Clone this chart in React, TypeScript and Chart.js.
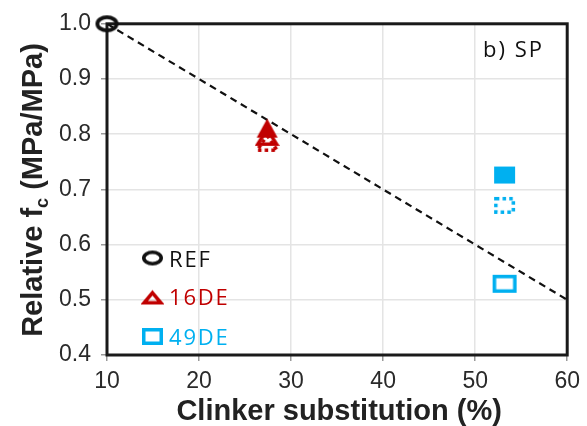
import React, { useEffect, useRef } from "react";
import { Chart, registerables } from "chart.js";

Chart.register(...registerables);

// ---- data ----
const xTickValues = [10, 20, 30, 40, 50, 60];
const yTickValues = [0.4, 0.5, 0.6, 0.7, 0.8, 0.9, 1.0];

const refX = [10];
const refY = [1.0];

const de16X = [27.4];
const de16Filled = [0.811];
const de16Open = [0.797];
const de16Dotted = [0.786];

const de49X = [53.2];
const de49Filled = [0.726];
const de49Dotted = [0.671];
const de49Open = [0.529];

const trendX = [10, 60];
const trendY = [1.0, 0.5];

const legendLabels = ["REF", "16DE", "49DE"];
const panelLabel = "b) SP";
const xTitle = "Clinker substitution (%)";
const yTitleMain = "Relative f";
const yTitleSub = "c";
const yTitleTail = " (MPa/MPa)";

const BLACK = "#111111";
const RED = "#C00000";
const CYAN = "#00B0F0";

type Shape = "ellipse" | "triangle" | "rect";
type Mode = "filled" | "open" | "dotted";

function markerCanvas(shape: Shape, mode: Mode, color: string, w: number, h: number, lw: number) {
  const c = document.createElement("canvas");
  c.width = w + 2;
  c.height = h + 2;
  const ctx = c.getContext("2d")!;
  const i = mode === "filled" ? 0 : lw / 2;
  ctx.beginPath();
  if (shape === "ellipse") {
    ctx.ellipse(1 + w / 2, 1 + h / 2, w / 2 - i, h / 2 - i, 0, 0, Math.PI * 2);
  } else if (shape === "triangle") {
    ctx.moveTo(1 + w / 2, 1 + i * 1.9);
    ctx.lineTo(1 + w - i * 1.2, 1 + h - i);
    ctx.lineTo(1 + i * 1.2, 1 + h - i);
    ctx.closePath();
  } else {
    ctx.rect(1 + i, 1 + i, w - 2 * i, h - 2 * i);
  }
  if (mode === "filled") {
    ctx.fillStyle = color;
    ctx.fill();
  } else {
    ctx.strokeStyle = color;
    ctx.lineWidth = lw;
    ctx.lineJoin = "miter";
    if (mode === "dotted") ctx.setLineDash([3.5, 3.2]);
    ctx.stroke();
  }
  return c;
}

export default function App() {
  const ref = useRef<HTMLCanvasElement | null>(null);

  useEffect(() => {
    const canvas = ref.current;
    if (!canvas) return;

    const mRef = markerCanvas("ellipse", "open", BLACK, 23, 17, 3.8);
    const mTriF = markerCanvas("triangle", "filled", RED, 21, 19, 3.5);
    const mTriO = markerCanvas("triangle", "open", RED, 23, 20, 3.5);
    const mTriD = markerCanvas("triangle", "dotted", RED, 24, 20, 3.5);
    const mSqF = markerCanvas("rect", "filled", CYAN, 21, 17, 3.5);
    const mSqD = markerCanvas("rect", "dotted", CYAN, 21, 17, 3.5);
    const mSqO = markerCanvas("rect", "open", CYAN, 24, 18, 3.6);

    const lgRef = markerCanvas("ellipse", "open", BLACK, 21, 15, 3.6);
    const lgTri = markerCanvas("triangle", "open", RED, 21, 15, 3.5);
    const lgSq = markerCanvas("rect", "open", CYAN, 21, 17, 3.5);

    const pts = (xs: number[], ys: number[]) => ys.map((y, k) => ({ x: xs[k], y }));

    const frameAndText = {
      id: "frameAndText",
      beforeDatasetsDraw(chart: any) {
        const { ctx, chartArea: a } = chart;
        ctx.save();
        ctx.strokeStyle = "#1a1a1a";
        ctx.lineWidth = 3;
        ctx.strokeRect(a.left, a.top, a.right - a.left, a.bottom - a.top);
        ctx.restore();
      },
      afterDraw(chart: any) {
        const { ctx, chartArea: a } = chart;
        ctx.save();
        // x title
        ctx.fillStyle = "#222";
        ctx.font = "bold 29px 'Liberation Sans', Arial, sans-serif";
        ctx.textAlign = "center";
        ctx.textBaseline = "alphabetic";
        ctx.fillText(xTitle, (a.left + a.right) / 2 + 2, 420);

        // y title with subscript
        ctx.translate(42, 190);
        ctx.rotate(-Math.PI / 2);
        ctx.textAlign = "left";
        const big = "bold 29px 'Liberation Sans', Arial, sans-serif";
        const small = "bold 18px 'Liberation Sans', Arial, sans-serif";
        ctx.font = big;
        const w1 = ctx.measureText(yTitleMain).width;
        const w3 = ctx.measureText(yTitleTail).width;
        ctx.font = small;
        const w2 = ctx.measureText(yTitleSub).width;
        let x0 = -(w1 + w2 + w3) / 2;
        ctx.font = big;
        ctx.fillText(yTitleMain, x0, 0);
        x0 += w1;
        ctx.font = small;
        ctx.fillText(yTitleSub, x0, 6);
        x0 += w2;
        ctx.font = big;
        ctx.fillText(yTitleTail, x0, 0);
        ctx.restore();

        // panel label
        ctx.save();
        ctx.fillStyle = "#111";
        ctx.font = "22px 'Open Sans', sans-serif";
        (ctx as any).letterSpacing = "2px";
        ctx.textAlign = "left";
        ctx.textBaseline = "alphabetic";
        ctx.fillText(panelLabel, 483, 57);

        // legend
        const items = [
          { m: lgRef, c: BLACK, y: 258, base: 266.5 },
          { m: lgTri, c: RED, y: 297, base: 305 },
          { m: lgSq, c: CYAN, y: 336.5, base: 345 },
        ];
        ctx.font = "22px 'Open Sans', sans-serif";
        (ctx as any).letterSpacing = "1.8px";
        items.forEach((it, k) => {
          ctx.drawImage(it.m, 152.5 - it.m.width / 2, it.y - it.m.height / 2);
          ctx.fillStyle = it.c;
          ctx.fillText(legendLabels[k], 169, it.base);
        });
        ctx.restore();
      },
    };

    const chart = new Chart(canvas, {
      type: "scatter",
      data: {
        datasets: [
          { label: "REF", data: pts(refX, refY), pointStyle: mRef as any, pointRadius: 10, clip: false } as any,
          { label: "16DE filled", data: pts(de16X, de16Filled), pointStyle: mTriF as any, pointRadius: 10 },
          { label: "16DE dotted", data: pts(de16X, de16Dotted), pointStyle: mTriD as any, pointRadius: 10 },
          { label: "16DE open", data: pts(de16X, de16Open), pointStyle: mTriO as any, pointRadius: 10 },
          { label: "49DE filled", data: pts(de49X, de49Filled), pointStyle: mSqF as any, pointRadius: 10 },
          { label: "49DE dotted", data: pts(de49X, de49Dotted), pointStyle: mSqD as any, pointRadius: 10 },
          { label: "49DE open", data: pts(de49X, de49Open), pointStyle: mSqO as any, pointRadius: 10 },
          {
            type: "line" as any,
            label: "trend",
            data: pts(trendX, trendY),
            borderColor: "#111",
            borderWidth: 2.2,
            borderDash: [7, 5],
            pointRadius: 0,
            showLine: true,
            fill: false,
          } as any,
        ],
      },
      options: {
        animation: false,
        responsive: false,
        layout: { padding: { top: 23, right: 19, left: 0, bottom: 0 } },
        plugins: { legend: { display: false }, tooltip: { enabled: false } },
        scales: {
          x: {
            type: "linear",
            min: 10,
            max: 60,
            afterBuildTicks: (s: any) => {
              s.ticks = xTickValues.map((v) => ({ value: v }));
            },
            afterFit: (s: any) => {
              s.height = 71;
            },
            ticks: {
              font: { family: "'Liberation Sans', Arial, sans-serif", size: 23 },
              color: "#2a2a2a",
              padding: 7,
              maxRotation: 0,
            },
            grid: { color: "#e4e4e4", lineWidth: 1.5, tickLength: 6, tickColor: "#9a9a9a" },
            border: { display: false },
          },
          y: {
            type: "linear",
            min: 0.4,
            max: 1.0,
            afterBuildTicks: (s: any) => {
              s.ticks = yTickValues.map((v) => ({ value: v }));
            },
            afterFit: (s: any) => {
              s.width = 107;
            },
            ticks: {
              font: { family: "'Liberation Sans', Arial, sans-serif", size: 23 },
              color: "#2a2a2a",
              padding: 10,
              callback: (v: any) => Number(v).toFixed(1),
            },
            grid: { color: "#e4e4e4", lineWidth: 1.5, tickLength: 6, tickColor: "#9a9a9a" },
            border: { display: false },
          },
        },
      },
      plugins: [frameAndText],
    });

    return () => chart.destroy();
  }, []);

  return (
    <div style={{ position: "fixed", left: 0, top: 0, width: 587, height: 426, background: "#fff" }}>
      <canvas ref={ref} width={587} height={426} />
    </div>
  );
}
